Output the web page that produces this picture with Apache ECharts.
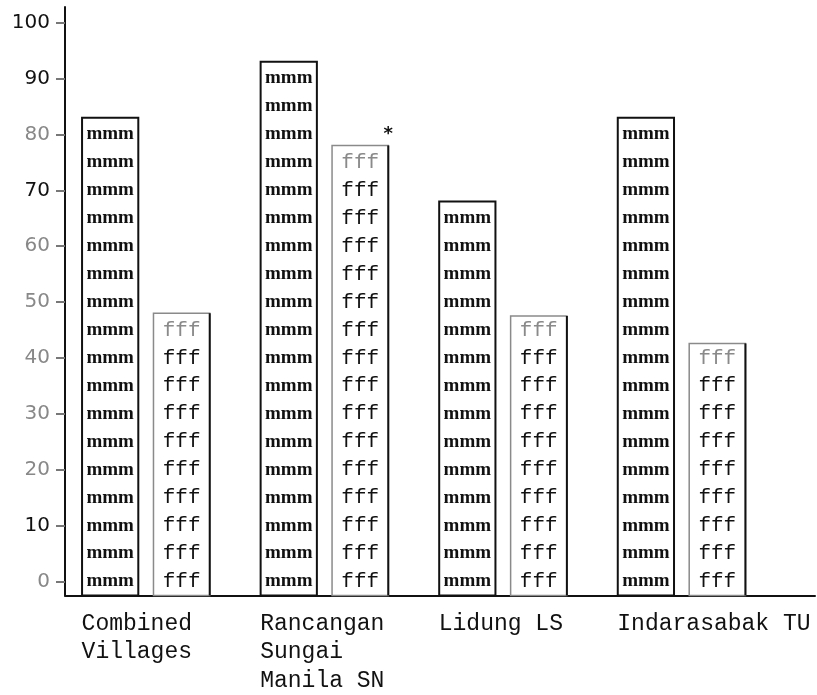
<!DOCTYPE html>
<html>
<head>
<meta charset="utf-8">
<script src="https://cdn.jsdelivr.net/npm/echarts@6/dist/echarts.min.js"></script>
<style>
  html, body { margin: 0; padding: 0; background: #fff; }
  #chart { width: 817px; height: 695px; }
</style>
</head>
<body>
<div id="chart"></div>
<script>
  // data
  var categories = ['Combined\nVillages', 'Rancangan\nSungai\nManila SN', 'Lidung LS', 'Indarasabak TU'];
  var mmmValues = [83, 93, 68, 83];
  var fffValues = [48, 78, 47.5, 42.6];
  var fffMarks = ['', '*', '', ''];
  var yTicks = [0, 10, 20, 30, 40, 50, 60, 70, 80, 90, 100];
  var darkTicks = [10, 70, 90, 100];

  var Y_MIN = -2.5;
  var Y_MAX = 102.8;
  var LABEL_SHIFT = 0.36;

  function makeRender(kind) {
    var offset = kind === 'mmm' ? -0.2 : 0.2;
    return function (params, api) {
      var i = api.value(0);
      var v = api.value(1);
      var band = api.size([1, 0])[0];
      var w = band * 0.315;
      var top = api.coord([i, v]);
      var base = api.coord([i, Y_MIN]);
      var cx = top[0] + offset * band;
      var x0 = cx - w / 2;
      var children = [{
        type: 'rect',
        shape: { x: x0, y: top[1], width: w, height: base[1] - top[1] },
        style: {
          fill: '#fff',
          stroke: kind === 'mmm' ? '#111' : '#8a8a8a',
          lineWidth: kind === 'mmm' ? 2 : 1.5
        }
      }];
      if (kind === 'fff') {
        children.push({
          type: 'line',
          shape: { x1: x0 + w, y1: top[1], x2: x0 + w, y2: base[1] },
          style: { stroke: '#111', lineWidth: 2 }
        });
      }
      var rows = [];
      for (var k = 0; k <= v - 2; k += 5) rows.push(k);
      rows.forEach(function (k, n) {
        var p = api.coord([i, k]);
        var gray = kind === 'fff' && n === rows.length - 1;
        children.push({
          type: 'text',
          style: {
            text: kind,
            x: cx,
            y: p[1],
            align: 'center',
            verticalAlign: 'middle',
            fill: gray ? '#8a8a8a' : '#111',
            font: kind === 'mmm'
              ? 'bold 19px "Liberation Serif", serif'
              : '21px "Liberation Mono", monospace'
          }
        });
      });
      var mark = fffMarks[i];
      if (kind === 'fff' && mark) {
        children.push({
          type: 'text',
          style: {
            text: mark,
            x: x0 + w,
            y: top[1] - 2,
            align: 'center',
            verticalAlign: 'bottom',
            fill: '#111',
            font: 'bold 18px "DejaVu Sans", sans-serif'
          }
        });
      }
      return { type: 'group', children: children };
    };
  }

  var chart = echarts.init(document.getElementById('chart'));
  chart.setOption({
    animation: false,
    backgroundColor: '#fff',
    grid: { left: 65, right: 2, top: 7, bottom: 95 },
    xAxis: {
      type: 'value',
      min: -0.453,
      max: 3.747,
      splitLine: { show: false },
      axisTick: { show: false },
      axisLine: { show: true, onZero: false, lineStyle: { color: '#111', width: 2 } },
      axisLabel: {
        customValues: categories.map(function (c, i) { return i - LABEL_SHIFT; }),
        formatter: function (v) { return categories[Math.round(v + LABEL_SHIFT)]; },
        align: 'left',
        margin: 14,
        color: '#111',
        fontFamily: '"Liberation Mono", monospace',
        fontSize: 23,
        lineHeight: 28.5
      }
    },
    yAxis: {
      type: 'value',
      min: Y_MIN,
      max: Y_MAX,
      splitLine: { show: false },
      axisLine: { show: true, onZero: false, lineStyle: { color: '#111', width: 2 } },
      axisTick: {
        show: true,
        customValues: yTicks,
        length: 9,
        lineStyle: { color: '#777', width: 2 }
      },
      axisLabel: {
        customValues: yTicks,
        margin: 15,
        formatter: function (v) {
          return darkTicks.indexOf(v) >= 0 ? '{d|' + v + '}' : '{g|' + v + '}';
        },
        rich: {
          d: { color: '#111', fontFamily: '"DejaVu Sans", sans-serif', fontSize: 20 },
          g: { color: '#888', fontFamily: '"DejaVu Sans", sans-serif', fontSize: 20 }
        }
      }
    },
    series: [
      {
        name: 'mmm',
        type: 'custom',
        renderItem: makeRender('mmm'),
        encode: { x: 0, y: 1 },
        data: mmmValues.map(function (v, i) { return [i, v]; })
      },
      {
        name: 'fff',
        type: 'custom',
        renderItem: makeRender('fff'),
        encode: { x: 0, y: 1 },
        data: fffValues.map(function (v, i) { return [i, v]; })
      }
    ]
  });
</script>
</body>
</html>
